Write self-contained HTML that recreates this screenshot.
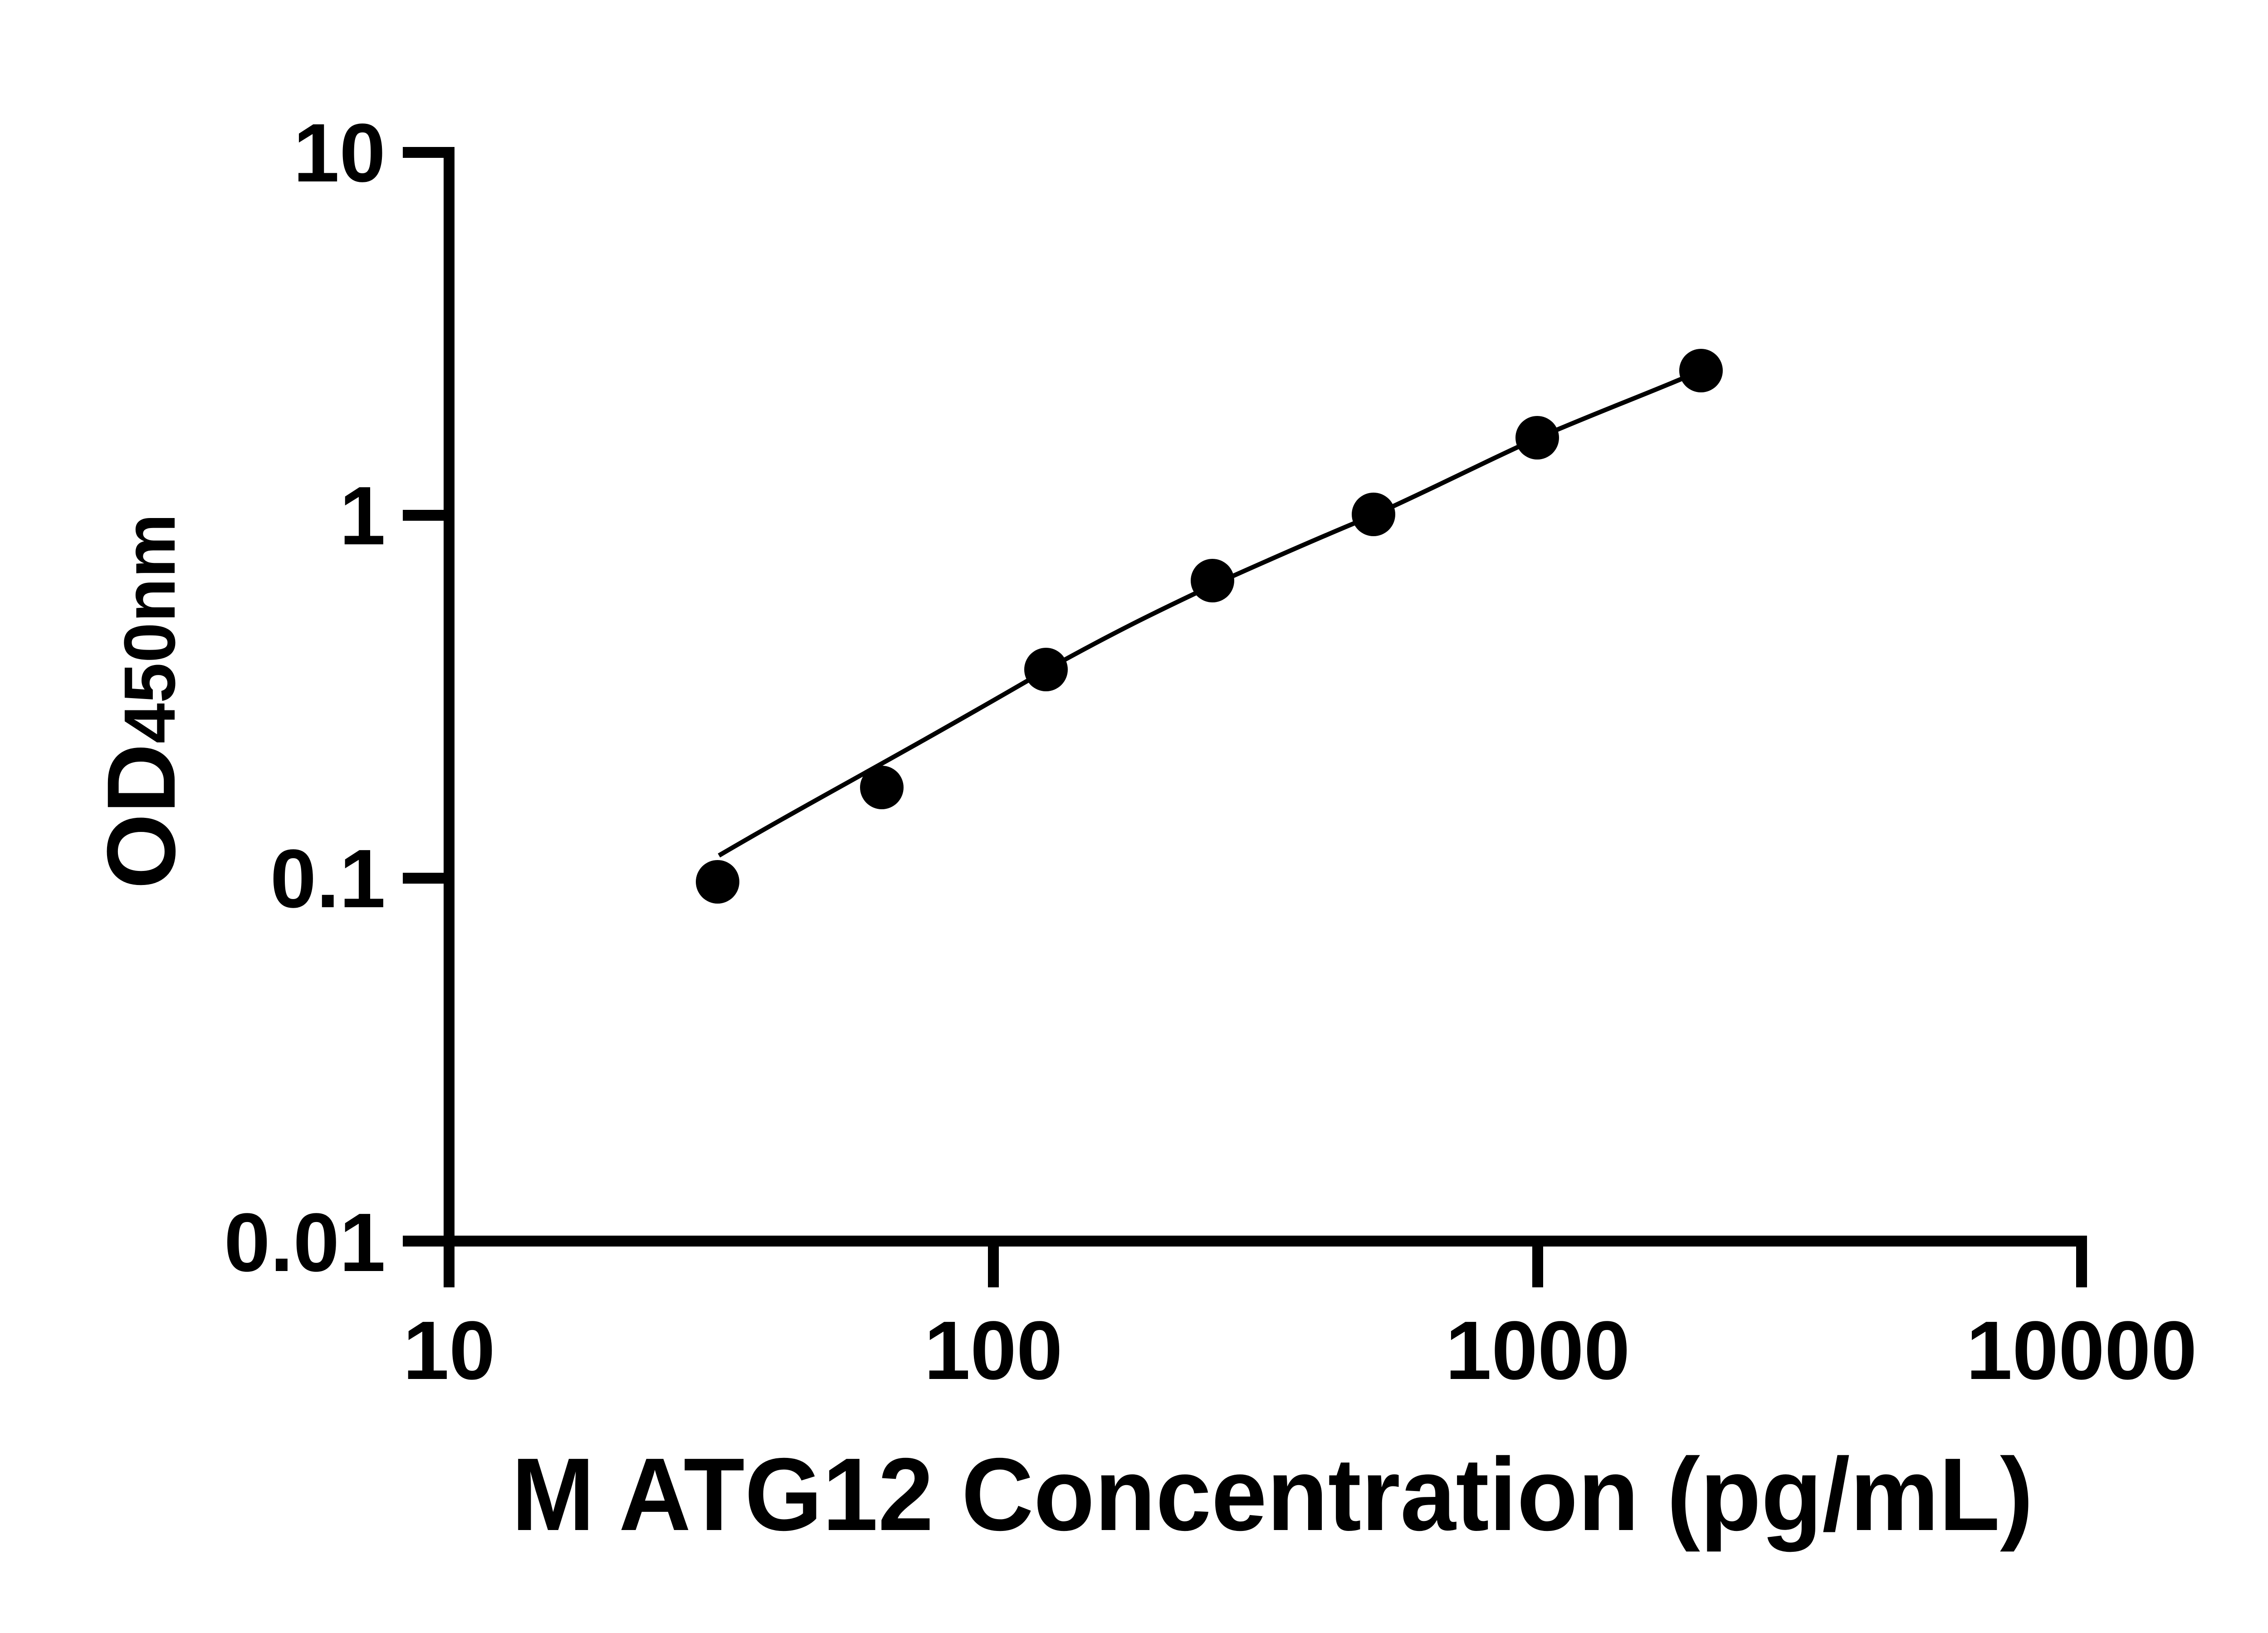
<!DOCTYPE html>
<html><head><meta charset="utf-8"><style>html,body{margin:0;padding:0;background:#fff}svg{display:block}</style></head>
<body>
<svg xmlns="http://www.w3.org/2000/svg" width="5142" height="3600" viewBox="0 0 5142 3600">
<rect width="5142" height="3600" fill="#fff"/>
<g stroke="#000" stroke-width="24" fill="none" stroke-linecap="butt">
<line x1="990" y1="324" x2="990" y2="2838"/>
<line x1="978" y1="2736" x2="4601" y2="2736"/>
<line x1="888" y1="336" x2="1002" y2="336"/>
<line x1="888" y1="1136" x2="990" y2="1136"/>
<line x1="888" y1="1936" x2="990" y2="1936"/>
<line x1="888" y1="2736" x2="990" y2="2736"/>
<line x1="2190" y1="2736" x2="2190" y2="2838"/>
<line x1="3390" y1="2736" x2="3390" y2="2838"/>
<line x1="4589" y1="2724" x2="4589" y2="2838"/>
</g>
<g font-family="Liberation Sans, Arial, sans-serif" font-weight="bold" font-size="183" fill="#000">
<text x="850" y="400" text-anchor="end">10</text>
<text x="850" y="1200" text-anchor="end">1</text>
<text x="850" y="2000" text-anchor="end">0.1</text>
<text x="850" y="2802" text-anchor="end">0.01</text>
<text x="990" y="3040" text-anchor="middle">10</text>
<text x="2190" y="3040" text-anchor="middle">100</text>
<text x="3390" y="3040" text-anchor="middle">1000</text>
<text x="4589" y="3040" text-anchor="middle">10000</text>
</g>
<text x="2805" y="3373" text-anchor="middle" font-family="Liberation Sans, Arial, sans-serif" font-weight="bold" font-size="228" textLength="3355" lengthAdjust="spacingAndGlyphs">M ATG12 Concentration (pg/mL)</text>
<text transform="translate(385,1960) rotate(-90)" font-family="Liberation Sans, Arial, sans-serif" font-weight="bold" fill="#000"><tspan font-size="214">OD</tspan><tspan font-size="160">450nm</tspan></text>
<path d="M1585,1886 C1800,1760 1950,1684 2308,1476 C2490,1375 2590,1330 2673,1290 C2840,1215 2940,1172 3028,1136 C3190,1062 3290,1010 3389,966 C3530,905 3640,865 3750,817" fill="none" stroke="#000" stroke-width="10"/>
<g fill="#000">
<circle cx="1582" cy="1944" r="48"/>
<circle cx="1944" cy="1736" r="48"/>
<circle cx="2306" cy="1476" r="48"/>
<circle cx="2673" cy="1280" r="48"/>
<circle cx="3028" cy="1134" r="48"/>
<circle cx="3389" cy="965" r="48"/>
<circle cx="3750" cy="817" r="48"/>
</g>
</svg>
</body></html>
